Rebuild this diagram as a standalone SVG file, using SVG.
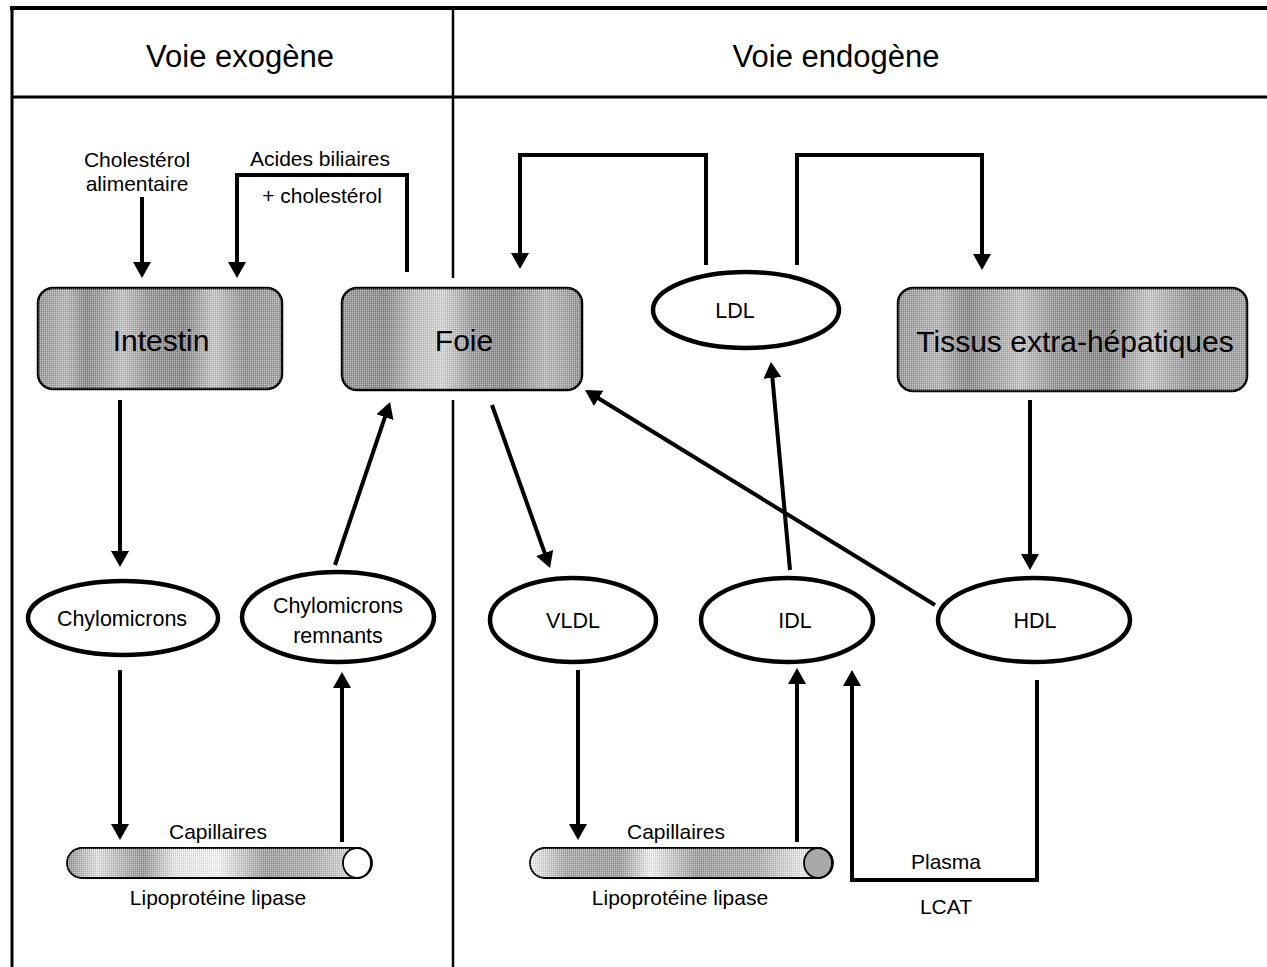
<svg xmlns="http://www.w3.org/2000/svg" width="1267" height="967" viewBox="0 0 1267 967">
<style>
  .frame{stroke:#000;fill:none}
  .lbl{font-family:"Liberation Sans",Arial,sans-serif;fill:#000;text-anchor:middle}
  .hdr{font-size:31px}
  .box{font-size:30px}
  .ell{font-size:21.5px}
  .sm{font-size:21px}
  .node-ell{fill:#fff;stroke:#000;stroke-width:4.5}
  .node-box{stroke:#000;stroke-width:2.5}
  .con{fill:none;stroke:#000;stroke-width:4;marker-end:url(#ah)}
  .tube{stroke:#000;stroke-width:1.8}
</style>
<defs>
  <marker id="ah" markerUnits="userSpaceOnUse" markerWidth="16" markerHeight="18" refX="9" refY="9" orient="auto">
    <path d="M0,0 L16,9 L0,18 z" fill="#000"/>
  </marker>
  <linearGradient id="g1" x1="0" y1="0" x2="1" y2="0">
    <stop offset="0" stop-color="#9a9a9a"/>
    <stop offset="0.12" stop-color="#b8b8b8"/>
    <stop offset="0.2" stop-color="#8c8c8c"/>
    <stop offset="0.35" stop-color="#c4c4c4"/>
    <stop offset="0.45" stop-color="#9a9a9a"/>
    <stop offset="0.6" stop-color="#8a8a8a"/>
    <stop offset="0.72" stop-color="#c8c8c8"/>
    <stop offset="0.85" stop-color="#959595"/>
    <stop offset="1" stop-color="#a8a8a8"/>
  </linearGradient>
  <linearGradient id="g2" x1="0" y1="0" x2="1" y2="0">
    <stop offset="0" stop-color="#9c9c9c"/>
    <stop offset="0.18" stop-color="#8e8e8e"/>
    <stop offset="0.3" stop-color="#c0c0c0"/>
    <stop offset="0.42" stop-color="#d6d6d6"/>
    <stop offset="0.55" stop-color="#9a9a9a"/>
    <stop offset="0.7" stop-color="#8c8c8c"/>
    <stop offset="0.85" stop-color="#bcbcbc"/>
    <stop offset="1" stop-color="#969696"/>
  </linearGradient>
  <linearGradient id="gt1" x1="0" y1="0" x2="1" y2="0">
    <stop offset="0" stop-color="#9a9a9a"/>
    <stop offset="0.1" stop-color="#e0e0e0"/>
    <stop offset="0.25" stop-color="#999"/>
    <stop offset="0.35" stop-color="#e6e6e6"/>
    <stop offset="0.5" stop-color="#f4f4f4"/>
    <stop offset="0.65" stop-color="#a0a0a0"/>
    <stop offset="0.8" stop-color="#b0b0b0"/>
    <stop offset="1" stop-color="#eee"/>
  </linearGradient>
  <linearGradient id="gt2" x1="0" y1="0" x2="1" y2="0">
    <stop offset="0" stop-color="#f4f4f4"/>
    <stop offset="0.12" stop-color="#aaa"/>
    <stop offset="0.3" stop-color="#a0a0a0"/>
    <stop offset="0.4" stop-color="#f0f0f0"/>
    <stop offset="0.55" stop-color="#a0a0a0"/>
    <stop offset="0.75" stop-color="#b0b0b0"/>
    <stop offset="0.9" stop-color="#e8e8e8"/>
    <stop offset="1" stop-color="#c8c8c8"/>
  </linearGradient>
  <pattern id="dith" width="2" height="2" patternUnits="userSpaceOnUse">
    <rect x="0" y="0" width="1" height="1" fill="#fff" opacity="0.35"/>
    <rect x="1" y="1" width="1" height="1" fill="#000" opacity="0.12"/>
  </pattern>
</defs>

<g id="frame">
  <line class="frame" x1="10" y1="8" x2="1267" y2="8" stroke-width="4"/>
  <line class="frame" x1="12" y1="6" x2="12" y2="967" stroke-width="3"/>
  <line class="frame" x1="12" y1="97" x2="1267" y2="97" stroke-width="3"/>
  <line class="frame" x1="453" y1="8" x2="453" y2="278" stroke-width="2.5"/>
  <line class="frame" x1="453" y1="400" x2="453" y2="967" stroke-width="2.5"/>
  <text class="lbl hdr" x="240" y="67">Voie exogène</text>
  <text class="lbl hdr" x="836" y="67">Voie endogène</text>
</g>

<g id="connectors">
  <path class="con" d="M142,197 V271"/>
  <path class="con" d="M407,272 V175 H237 V271"/>
  <path class="con" d="M706,265 V155 H520 V262"/>
  <path class="con" d="M797,265 V155 H982 V263"/>
  <path class="con" d="M120,400 V560"/>
  <path class="con" d="M335,565 L387.8,408.6"/>
  <path class="con" d="M120,670 V833"/>
  <path class="con" d="M342,842 V679"/>
  <path class="con" d="M492,405 L547.7,561.4"/>
  <path class="con" d="M578,670 V833"/>
  <path class="con" d="M797,842 V675"/>
  <path class="con" d="M790,570 L771.6,369"/>
  <path class="con" d="M935,605 L591,393.7"/>
  <path class="con" d="M1030,400 V563"/>
  <path class="con" d="M1037,680 V880 H852 V677"/>
</g>

<g id="labels">
  <text class="lbl sm" x="137" y="167">Cholestérol</text>
  <text class="lbl sm" x="137" y="191">alimentaire</text>
  <text class="lbl sm" x="320" y="166">Acides biliaires</text>
  <text class="lbl sm" x="322" y="203">+ cholestérol</text>
  <text class="lbl sm" x="946" y="869">Plasma</text>
  <text class="lbl sm" x="946" y="914">LCAT</text>
</g>

<g id="intestin">
  <rect class="node-box" x="38" y="288" width="244" height="101" rx="15" fill="url(#g1)"/>
  <rect x="38" y="288" width="244" height="101" rx="15" fill="url(#dith)"/>
  <text class="lbl box" x="161" y="351">Intestin</text>
</g>

<g id="foie">
  <rect class="node-box" x="342" y="288" width="240" height="102" rx="15" fill="url(#g2)"/>
  <rect x="342" y="288" width="240" height="102" rx="15" fill="url(#dith)"/>
  <text class="lbl box" x="464" y="351">Foie</text>
</g>

<g id="tissus">
  <rect class="node-box" x="898" y="288" width="349" height="103" rx="15" fill="url(#g1)"/>
  <rect x="898" y="288" width="349" height="103" rx="15" fill="url(#dith)"/>
  <text class="lbl box" x="1075" y="352" font-size="30.5">Tissus extra-hépatiques</text>
</g>

<g id="ldl">
  <ellipse class="node-ell" cx="746" cy="310" rx="93" ry="38"/>
  <text class="lbl ell" x="735" y="318">LDL</text>
</g>

<g id="chylomicrons">
  <ellipse class="node-ell" cx="123" cy="618" rx="95" ry="37"/>
  <text class="lbl ell" x="122" y="626">Chylomicrons</text>
</g>

<g id="remnants">
  <ellipse class="node-ell" cx="338" cy="617" rx="96" ry="45"/>
  <text class="lbl ell" x="338" y="613">Chylomicrons</text>
  <text class="lbl ell" x="338" y="643">remnants</text>
</g>

<g id="vldl">
  <ellipse class="node-ell" cx="573" cy="620" rx="83" ry="42"/>
  <text class="lbl ell" x="573" y="628">VLDL</text>
</g>

<g id="idl">
  <ellipse class="node-ell" cx="787" cy="620" rx="86" ry="42"/>
  <text class="lbl ell" x="795" y="628">IDL</text>
</g>

<g id="hdl">
  <ellipse class="node-ell" cx="1034" cy="620" rx="96" ry="42"/>
  <text class="lbl ell" x="1035" y="628">HDL</text>
</g>

<g id="capillaires1">
  <text class="lbl sm" x="218" y="839">Capillaires</text>
  <rect class="tube" x="67" y="848" width="305" height="30" rx="15" fill="url(#gt1)"/>
  <rect x="67" y="848" width="305" height="30" rx="15" fill="url(#dith)"/>
  <ellipse class="tube" cx="357" cy="863" rx="14" ry="15" fill="#fff"/>
  <text class="lbl sm" x="218" y="905">Lipoprotéine lipase</text>
</g>

<g id="capillaires2">
  <text class="lbl sm" x="676" y="839">Capillaires</text>
  <rect class="tube" x="530" y="848" width="303" height="30" rx="15" fill="url(#gt2)"/>
  <rect x="530" y="848" width="303" height="30" rx="15" fill="url(#dith)"/>
  <ellipse class="tube" cx="818" cy="863" rx="14" ry="15" fill="#a8a8a8"/>
  <text class="lbl sm" x="680" y="905">Lipoprotéine lipase</text>
</g>
</svg>
